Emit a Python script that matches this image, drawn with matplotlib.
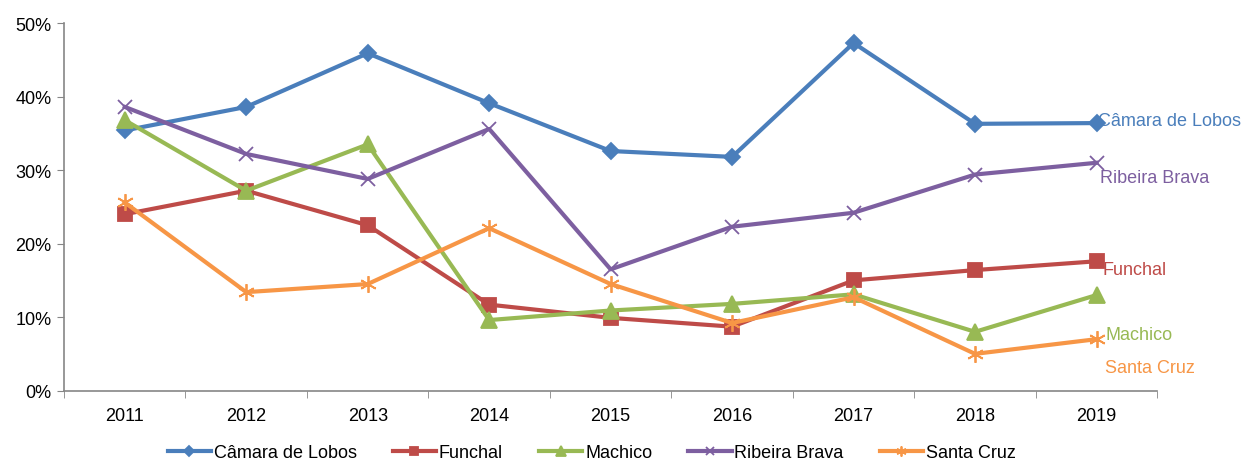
import matplotlib
matplotlib.use("Agg")
import matplotlib.pyplot as plt
from matplotlib.ticker import FuncFormatter, FixedLocator

plt.rcParams['font.family'] = ['Liberation Sans', 'DejaVu Sans']

years = ['2011', '2012', '2013', '2014', '2015', '2016', '2017', '2018', '2019']
camara = [35.4, 38.6, 45.9, 39.1, 32.6, 31.8, 47.3, 36.3, 36.4]
funchal = [24.0, 27.2, 22.5, 11.7, 9.9, 8.7, 15.0, 16.4, 17.6]
machico = [36.8, 27.2, 33.5, 9.6, 10.9, 11.8, 13.1, 8.0, 13.0]
ribeira = [38.6, 32.2, 28.8, 35.6, 16.5, 22.3, 24.2, 29.4, 31.0]
santa_cruz = [25.6, 13.4, 14.5, 22.1, 14.5, 9.2, 12.7, 5.0, 7.0]

names = ['Câmara de Lobos', 'Funchal', 'Machico', 'Ribeira Brava', 'Santa Cruz']
series = [camara, funchal, machico, ribeira, santa_cruz]
colors = ['#4A7EBB', '#BE4B48', '#98B954', '#7D5FA0', '#F79646']
markers = ['D', 's', '^', 'x', (6, 2, 0)]
msizes = [8, 10, 11, 10, 12]
# end labels: (x position, y value), same order as names
label_pos = [(8.01, 36.8), (8.05, 16.5), (8.07, 7.6), (8.03, 29.0), (8.07, 3.2)]

fig = plt.figure(figsize=(12.48, 4.64), dpi=100)
ax = fig.add_axes([0.0513, 0.156, 0.876, 0.792])

x = list(range(len(years)))
for name, vals, c, m, ms, (lx, ly) in zip(names, series, colors, markers, msizes, label_pos):
    ax.plot(x, vals, color=c, lw=3, marker=m, markersize=ms,
            markeredgewidth=1.3, label=name)
    ax.text(lx, ly, name, color=c, fontsize=13, va='center', ha='left')

ax.set_xlim(-0.5, 8.5)
ax.set_ylim(0, 50)
ax.set_xticks(x)
ax.set_xticklabels(years)
ax.xaxis.set_minor_locator(FixedLocator([i - 0.5 for i in range(len(years) + 1)]))
ax.tick_params(axis='x', which='major', length=0, pad=12, labelsize=13)
ax.tick_params(axis='x', which='minor', length=5, color='#868686', direction='out')
ax.set_yticks([0, 10, 20, 30, 40, 50])
ax.yaxis.set_major_formatter(FuncFormatter(lambda v, p: f'{int(v)}%'))
ax.tick_params(axis='y', length=5, color='#868686', labelsize=13, pad=4)

for s in ['top', 'right']:
    ax.spines[s].set_visible(False)
for s in ['left', 'bottom']:
    ax.spines[s].set_color('#868686')
    ax.spines[s].set_linewidth(1.2)

fig.legend(loc='center', bbox_to_anchor=(0.474, 0.022), ncol=5, frameon=False,
           fontsize=13, markerscale=0.6, handlelength=2.4, handletextpad=0.15,
           columnspacing=2.0)

fig.savefig('out.png', dpi=100)
